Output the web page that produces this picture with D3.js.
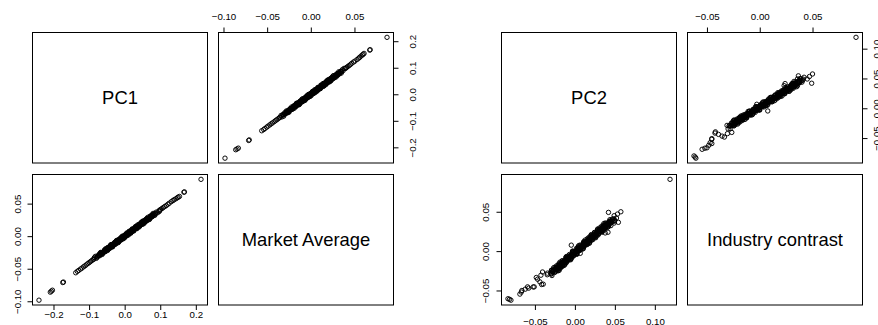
<!DOCTYPE html>
<html>
<head>
<meta charset="utf-8">
<script src="https://cdn.jsdelivr.net/npm/d3@7"></script>
<style>
html, body { margin: 0; padding: 0; background: #fff; }
svg { display: block; font-family: "Liberation Sans", Arial, Helvetica, sans-serif; }
</style>
</head>
<body>
<svg id="chart" width="878" height="325"></svg>
<script>
// Variable names shown on the diagonals of each scatterplot matrix
const leftVars = ["PC1", "Market Average"];
const rightVars = ["PC2", "Industry contrast"];

// Market average return vs first principal component
const marketAverage = [
  0.0873, 0.0680, 0.0675, 0.0610, 0.0600, 0.0590, 0.0575, 0.0560, 0.0548, 0.0530,
  0.0505, 0.0490, 0.0470, 0.0455, 0.0440, 0.0425, 0.0410, 0.0400, 0.0392,
  -0.0983, -0.0860, -0.0845, -0.0830, -0.0712, -0.0705, -0.0562, -0.0540, -0.0525, -0.0505,
  -0.0490, -0.0470, -0.0455, -0.0440, -0.0420, -0.0405, -0.0390, -0.0375, -0.0360, -0.0350,
  -0.034, -0.033, -0.032, -0.031, -0.030, -0.029, -0.028, -0.027, -0.026, -0.025,
  -0.024, -0.023, -0.022, -0.021, -0.020, -0.019, -0.018, -0.017, -0.016, -0.015,
  -0.014, -0.013, -0.012, -0.011, -0.010, -0.009, -0.008, -0.007, -0.006, -0.005,
  -0.004, -0.003, -0.002, -0.001, 0.000, 0.001, 0.002, 0.003, 0.004, 0.005,
  0.006, 0.007, 0.008, 0.009, 0.010, 0.011, 0.012, 0.013, 0.014, 0.015,
  0.016, 0.017, 0.018, 0.019, 0.020, 0.021, 0.022, 0.023, 0.024, 0.025,
  0.026, 0.027, 0.028, 0.029, 0.030, 0.031, 0.032, 0.033, 0.034, 0.035,
  0.036, 0.037, 0.038,
  -0.0205, -0.0195, -0.0185, -0.0175, -0.0165, -0.0155, -0.0145, -0.0135, -0.0125, -0.0115,
  -0.0105, -0.0095, -0.0085, -0.0075, -0.0065, -0.0055, -0.0045, -0.0035, -0.0025, -0.0015,
  -0.0005, 0.0005, 0.0015, 0.0025, 0.0035, 0.0045, 0.0055, 0.0065, 0.0075, 0.0085,
  0.0095, 0.0105, 0.0115, 0.0125, 0.0135, 0.0145, 0.0155, 0.0165, 0.0175, 0.0185,
  0.0195, 0.0205, 0.0215, 0.0225, 0.0235, 0.0245, 0.0255, 0.0265,
  -0.03175, -0.03075, -0.02975, -0.02875, -0.02775, -0.02675, -0.02575, -0.02475, -0.02375, -0.02275,
  -0.02175, -0.02075, -0.01975, -0.01875, -0.01775, -0.01675, -0.01575, -0.01475, -0.01375, -0.01275,
  -0.01175, -0.01075, -0.00975, -0.00875, -0.00775, -0.00675, -0.00575, -0.00475, -0.00375, -0.00275,
  -0.00175, -0.00075, 0.00025, 0.00125, 0.00225, 0.00325, 0.00425, 0.00525, 0.00625, 0.00725,
  0.00825, 0.00925, 0.01025, 0.01125, 0.01225, 0.01325, 0.01425, 0.01525, 0.01625, 0.01725,
  0.01825, 0.01925, 0.02025, 0.02125, 0.02225, 0.02325, 0.02425, 0.02525, 0.02625, 0.02725,
  0.02825, 0.02925, 0.03025, 0.03125, 0.03225, 0.03325, 0.03425, 0.03525,
  -0.02725, -0.02625, -0.02525, -0.02425, -0.02325, -0.02225, -0.02125, -0.02025, -0.01925, -0.01825,
  -0.01725, -0.01625, -0.01525, -0.01425, -0.01325, -0.01225, -0.01125, -0.01025, -0.00925, -0.00825,
  -0.00725, -0.00625, -0.00525, -0.00425, -0.00325, -0.00225, -0.00125, -0.00025, 0.00075, 0.00175,
  0.00275, 0.00375, 0.00475, 0.00575, 0.00675, 0.00775, 0.00875, 0.00975, 0.01075, 0.01175,
  0.01275, 0.01375, 0.01475, 0.01575, 0.01675, 0.01775, 0.01875, 0.01975, 0.02075, 0.02175,
  0.02275, 0.02375, 0.02475, 0.02575, 0.02675, 0.02775, 0.02875, 0.02975, 0.03075, 0.03175
];
const pc1 = [
  0.2146, 0.1680, 0.1665, 0.1540, 0.1505, 0.1480, 0.1440, 0.1390, 0.1360, 0.1310,
  0.1250, 0.1215, 0.1170, 0.1125, 0.1085, 0.1050, 0.1010, 0.0985, 0.0968,
  -0.2408, -0.2090, -0.2060, -0.2030, -0.1740, -0.1720, -0.1375, -0.1330, -0.1290, -0.1240,
  -0.1200, -0.1155, -0.1115, -0.1080, -0.1035, -0.0995, -0.0960, -0.0925, -0.0885, -0.0860,
  -0.0796, -0.0852, -0.0767, -0.0823, -0.0698, -0.0733, -0.0629, -0.0704, -0.0620, -0.0675,
  -0.0550, -0.0586, -0.0481, -0.0557, -0.0472, -0.0527, -0.0403, -0.0438, -0.0334, -0.0409,
  -0.0324, -0.0380, -0.0255, -0.0291, -0.0186, -0.0261, -0.0177, -0.0232, -0.0108, -0.0143,
  -0.0038, -0.0114, -0.0029, -0.0085, 0.0040, 0.0005, 0.0109, 0.0034, 0.0118, 0.0063,
  0.0188, 0.0152, 0.0257, 0.0181, 0.0266, 0.0211, 0.0335, 0.0300, 0.0404, 0.0329,
  0.0414, 0.0358, 0.0483, 0.0447, 0.0552, 0.0477, 0.0561, 0.0506, 0.0630, 0.0595,
  0.0700, 0.0624, 0.0709, 0.0653, 0.0778, 0.0743, 0.0847, 0.0772, 0.0856, 0.0801,
  0.0926, 0.0890, 0.0975,
  -0.0524, -0.0440, -0.0455, -0.0471, -0.0346, -0.0401, -0.0337, -0.0392, -0.0268, -0.0283,
  -0.0298, -0.0174, -0.0229, -0.0165, -0.0220, -0.0095, -0.0111, -0.0126, -0.0002, -0.0057,
  0.0008, -0.0048, 0.0077, 0.0062, 0.0046, 0.0171, 0.0115, 0.0180, 0.0125, 0.0249,
  0.0234, 0.0218, 0.0343, 0.0288, 0.0352, 0.0297, 0.0421, 0.0406, 0.0391, 0.0515,
  0.0460, 0.0524, 0.0469, 0.0594, 0.0578, 0.0563, 0.0687, 0.0632,
  -0.0771, -0.0767, -0.0732, -0.0697, -0.0693, -0.0658, -0.0624, -0.0619, -0.0584, -0.0550,
  -0.0545, -0.0511, -0.0476, -0.0471, -0.0437, -0.0402, -0.0398, -0.0363, -0.0328, -0.0324,
  -0.0289, -0.0255, -0.0250, -0.0215, -0.0181, -0.0176, -0.0142, -0.0107, -0.0102, -0.0068,
  -0.0033, -0.0029, 0.0006, 0.0041, 0.0045, 0.0080, 0.0114, 0.0119, 0.0154, 0.0188,
  0.0193, 0.0227, 0.0262, 0.0267, 0.0301, 0.0336, 0.0340, 0.0375, 0.0410, 0.0414,
  0.0449, 0.0483, 0.0488, 0.0523, 0.0557, 0.0562, 0.0596, 0.0631, 0.0636, 0.0670,
  0.0705, 0.0709, 0.0744, 0.0779, 0.0783, 0.0818, 0.0852, 0.0857,
  -0.0641, -0.0666, -0.0662, -0.0577, -0.0542, -0.0568, -0.0563, -0.0479, -0.0444, -0.0469,
  -0.0465, -0.0380, -0.0346, -0.0371, -0.0366, -0.0282, -0.0247, -0.0273, -0.0268, -0.0183,
  -0.0149, -0.0174, -0.0170, -0.0085, -0.0050, -0.0076, -0.0071, 0.0013, 0.0048, 0.0023,
  0.0027, 0.0112, 0.0146, 0.0121, 0.0126, 0.0210, 0.0245, 0.0219, 0.0224, 0.0309,
  0.0343, 0.0318, 0.0322, 0.0407, 0.0442, 0.0416, 0.0421, 0.0505, 0.0540, 0.0515,
  0.0519, 0.0604, 0.0638, 0.0613, 0.0618, 0.0702, 0.0737, 0.0711, 0.0716, 0.0801
];

// Industry contrast vs second principal component
const industryContrast = [
  0.0912, 0.0500, 0.0471, 0.0450, 0.0492, 0.0407, 0.0374, 0.0357, 0.0324, 0.0303,
  0.0231, 0.0240, 0.0366, 0.0420, 0.0076, -0.0028, -0.0193, -0.0243, -0.0265, -0.0306,
  -0.0357, -0.0335, -0.0391, -0.0420, -0.0424, -0.0454, -0.0455, -0.0470, -0.0454, -0.0483,
  -0.0500, -0.0520, -0.0546, -0.0623, -0.0605, -0.0612,
  -0.031, -0.030, -0.029, -0.028, -0.027, -0.026, -0.025, -0.024, -0.023, -0.022,
  -0.021, -0.020, -0.019, -0.018, -0.017, -0.016, -0.015, -0.014, -0.013, -0.012,
  -0.011, -0.010, -0.009, -0.008, -0.007, -0.006, -0.005, -0.004, -0.003, -0.002,
  -0.001, 0.000, 0.001, 0.002, 0.003, 0.004, 0.005, 0.006, 0.007, 0.008,
  0.009, 0.010, 0.011, 0.012, 0.013, 0.014, 0.015, 0.016, 0.017, 0.018,
  0.019, 0.020, 0.021, 0.022, 0.023, 0.024, 0.025, 0.026, 0.027, 0.028,
  0.029, 0.030, 0.031, 0.032, 0.033, 0.034, 0.035, 0.036, 0.037, 0.038,
  0.039, 0.040, 0.041,
  -0.0245, -0.0235, -0.0225, -0.0215, -0.0205, -0.0195, -0.0185, -0.0175, -0.0165, -0.0155,
  -0.0145, -0.0135, -0.0125, -0.0115, -0.0105, -0.0095, -0.0085, -0.0075, -0.0065, -0.0055,
  -0.0045, -0.0035, -0.0025, -0.0015, -0.0005, 0.0005, 0.0015, 0.0025, 0.0035, 0.0045,
  0.0055, 0.0065, 0.0075, 0.0085, 0.0095, 0.0105, 0.0115, 0.0125, 0.0135, 0.0145,
  0.0155, 0.0165, 0.0175, 0.0185, 0.0195, 0.0205, 0.0215, 0.0225, 0.0235, 0.0245,
  0.0255, 0.0265, 0.0275, 0.0285, 0.0295, 0.0305, 0.0315, 0.0325, 0.0335, 0.0345,
  -0.02875, -0.02775, -0.02675, -0.02575, -0.02475, -0.02375, -0.02275, -0.02175, -0.02075, -0.01975,
  -0.01875, -0.01775, -0.01675, -0.01575, -0.01475, -0.01375, -0.01275, -0.01175, -0.01075, -0.00975,
  -0.00875, -0.00775, -0.00675, -0.00575, -0.00475, -0.00375, -0.00275, -0.00175, -0.00075, 0.00025,
  0.00125, 0.00225, 0.00325, 0.00425, 0.00525, 0.00625, 0.00725, 0.00825, 0.00925, 0.01025,
  0.01125, 0.01225, 0.01325, 0.01425, 0.01525, 0.01625, 0.01725, 0.01825, 0.01925, 0.02025,
  0.02125, 0.02225, 0.02325, 0.02425, 0.02525, 0.02625, 0.02725, 0.02825, 0.02925, 0.03025,
  0.03125, 0.03225, 0.03325, 0.03425, 0.03525, 0.03625, 0.03725, 0.03825, 0.03925,
  -0.02625, -0.02525, -0.02425, -0.02325, -0.02225, -0.02125, -0.02025, -0.01925, -0.01825, -0.01725,
  -0.01625, -0.01525, -0.01425, -0.01325, -0.01225, -0.01125, -0.01025, -0.00925, -0.00825, -0.00725,
  -0.00625, -0.00525, -0.00425, -0.00325, -0.00225, -0.00125, -0.00025, 0.00075, 0.00175, 0.00275,
  0.00375, 0.00475, 0.00575, 0.00675, 0.00775, 0.00875, 0.00975, 0.01075, 0.01175, 0.01275,
  0.01375, 0.01475, 0.01575, 0.01675, 0.01775, 0.01875, 0.01975, 0.02075, 0.02175, 0.02275,
  0.02375, 0.02475, 0.02575, 0.02675, 0.02775, 0.02875, 0.02975, 0.03075, 0.03175, 0.03275,
  0.03375, 0.03475, 0.03575, 0.03675, 0.03775
];
const pc2 = [
  0.1190, 0.0575, 0.0533, 0.0491, 0.0420, 0.0470, 0.0429, 0.0491, 0.0450, 0.0408,
  0.0379, 0.0414, 0.0544, 0.0520, -0.0045, 0.0067, -0.0155, -0.0196, -0.0405, -0.0425,
  -0.0467, -0.0483, -0.0438, -0.0396, -0.0416, -0.0509, -0.0522, -0.0578, -0.0592, -0.0621,
  -0.0663, -0.0670, -0.0688, -0.0800, -0.0837, -0.0818,
  -0.0287, -0.0346, -0.0295, -0.0344, -0.0252, -0.0281, -0.0210, -0.0209, -0.0268, -0.0216,
  -0.0265, -0.0174, -0.0203, -0.0132, -0.0130, -0.0189, -0.0138, -0.0187, -0.0096, -0.0124,
  -0.0053, -0.0052, -0.0111, -0.0060, -0.0108, -0.0017, -0.0046, 0.0025, 0.0026, -0.0032,
  0.0019, -0.0030, 0.0061, 0.0032, 0.0104, 0.0105, 0.0046, 0.0097, 0.0048, 0.0140,
  0.0111, 0.0182, 0.0183, 0.0124, 0.0176, 0.0127, 0.0218, 0.0189, 0.0260, 0.0262,
  0.0203, 0.0254, 0.0205, 0.0296, 0.0268, 0.0339, 0.0340, 0.0281, 0.0332, 0.0284,
  0.0375, 0.0346, 0.0417, 0.0418, 0.0360, 0.0411, 0.0362, 0.0453, 0.0424, 0.0496,
  0.0497, 0.0438, 0.0489,
  -0.0294, -0.0223, -0.0242, -0.0180, -0.0229, -0.0198, -0.0227, -0.0156, -0.0174, -0.0113,
  -0.0162, -0.0131, -0.0160, -0.0088, -0.0107, -0.0046, -0.0095, -0.0064, -0.0092, -0.0021,
  -0.0040, 0.0021, -0.0028, 0.0004, -0.0025, 0.0046, 0.0027, 0.0088, 0.0040, 0.0071,
  0.0042, 0.0113, 0.0094, 0.0156, 0.0107, 0.0138, 0.0109, 0.0180, 0.0162, 0.0223,
  0.0174, 0.0205, 0.0176, 0.0248, 0.0229, 0.0290, 0.0241, 0.0272, 0.0244, 0.0315,
  0.0296, 0.0357, 0.0308, 0.0340, 0.0311, 0.0382, 0.0363, 0.0424, 0.0376, 0.0407,
  -0.0292, -0.0301, -0.0279, -0.0258, -0.0267, -0.0246, -0.0225, -0.0233, -0.0212, -0.0191,
  -0.0200, -0.0179, -0.0157, -0.0166, -0.0145, -0.0124, -0.0133, -0.0111, -0.0090, -0.0099,
  -0.0078, -0.0057, -0.0065, -0.0044, -0.0023, -0.0032, -0.0011, 0.0011, 0.0002, 0.0023,
  0.0044, 0.0035, 0.0057, 0.0078, 0.0069, 0.0090, 0.0111, 0.0103, 0.0124, 0.0145,
  0.0136, 0.0157, 0.0179, 0.0170, 0.0191, 0.0212, 0.0203, 0.0225, 0.0246, 0.0237,
  0.0258, 0.0279, 0.0271, 0.0292, 0.0313, 0.0304, 0.0325, 0.0347, 0.0338, 0.0359,
  0.0380, 0.0371, 0.0393, 0.0414, 0.0405, 0.0426, 0.0447, 0.0439, 0.0460,
  -0.0244, -0.0283, -0.0292, -0.0221, -0.0200, -0.0238, -0.0247, -0.0176, -0.0155, -0.0194,
  -0.0202, -0.0131, -0.0110, -0.0149, -0.0158, -0.0086, -0.0065, -0.0104, -0.0113, -0.0042,
  -0.0020, -0.0059, -0.0068, 0.0003, 0.0024, -0.0014, -0.0023, 0.0048, 0.0069, 0.0030,
  0.0022, 0.0093, 0.0114, 0.0075, 0.0066, 0.0138, 0.0159, 0.0120, 0.0111, 0.0182,
  0.0204, 0.0165, 0.0156, 0.0227, 0.0248, 0.0210, 0.0201, 0.0272, 0.0293, 0.0254,
  0.0246, 0.0317, 0.0338, 0.0299, 0.0290, 0.0362, 0.0383, 0.0344, 0.0335, 0.0406,
  0.0428, 0.0389, 0.0380, 0.0451, 0.0472
];

// Tick values for each variable's axis
const pc1Ticks = [-0.2, -0.1, 0.0, 0.1, 0.2];
const marketTicks = [-0.10, -0.05, 0.00, 0.05];
const pc2Ticks = [-0.05, 0.00, 0.05, 0.10];
const industryTicks = [-0.05, 0.00, 0.05];

const matrices = [
  { x0: 32, names: leftVars, series: [pc1, marketAverage], ticks: [pc1Ticks, marketTicks],
    fmt: [".1f", ".2f"], off: { top: 12.7, bottom: 13.3, left: 11.5, right: 22.3 } },
  { x0: 501, names: rightVars, series: [pc2, industryContrast], ticks: [pc2Ticks, industryTicks],
    fmt: [".2f", ".2f"], off: { top: 12.7, bottom: 20, left: 12.6, right: 17 } }
];

const panelW = 175, panelH = 130.5, gapX = 10.5, gapY = 11.5, y0 = 32;
const svg = d3.select("#chart");

// Pad an extent by 4% on each side, as scatterplot matrices usually do
function padded(values) {
  const [lo, hi] = d3.extent(values);
  const r = hi - lo;
  return [lo - 0.04 * r, hi + 0.04 * r];
}

matrices.forEach(m => {
  const g = svg.append("g");
  const panels = [];
  for (let i = 0; i < 2; i++) {
    for (let j = 0; j < 2; j++) {
      const left = Math.round(m.x0 + j * (panelW + gapX)) + 0.5;
      const top = Math.round(y0 + i * (panelH + gapY)) + 0.5;
      panels.push({ i, j, left, top });
    }
  }

  panels.forEach(p => {
    const w = panelW, h = panelH;
    const pg = g.append("g");

    if (p.i === p.j) {
      pg.append("text")
        .attr("x", p.left + w / 2)
        .attr("y", p.top + h / 2 + 6.6)
        .attr("text-anchor", "middle")
        .attr("font-size", 18.4)
        .attr("fill", "#000")
        .text(m.names[p.i]);
    } else {
      const xs = m.series[p.j], ys = m.series[p.i];
      const x = d3.scaleLinear().domain(padded(xs)).range([p.left, p.left + w]);
      const y = d3.scaleLinear().domain(padded(ys)).range([p.top + h, p.top]);

      pg.append("g").selectAll("circle")
        .data(d3.range(xs.length))
        .join("circle")
        .attr("cx", k => x(xs[k]))
        .attr("cy", k => y(ys[k]))
        .attr("r", 2.2)
        .attr("fill", "none")
        .attr("stroke", "#000")
        .attr("stroke-width", 0.95);

      const fx = d3.format(m.fmt[p.j]), fy = d3.format(m.fmt[p.i]);
      const styleAxis = sel => {
        sel.select(".domain").remove();
        sel.selectAll(".tick line").attr("stroke", "#000");
        sel.selectAll(".tick text").attr("fill", "#000").attr("font-size", 9.7)
          .attr("font-family", "\"Liberation Sans\", Arial, sans-serif");
      };

      if (p.i === 0) {
        // top axis + right axis
        const ax = g.append("g").attr("transform", `translate(0,${p.top})`)
          .call(d3.axisTop(x).tickValues(m.ticks[p.j]).tickFormat(fx).tickSize(5).tickSizeOuter(0));
        styleAxis(ax);
        ax.selectAll(".tick text").attr("y", -m.off.top).attr("dy", 0).attr("text-anchor", "middle");

        const ay = g.append("g").attr("transform", `translate(${p.left + w},0)`)
          .call(d3.axisRight(y).tickValues(m.ticks[p.i]).tickFormat(fy).tickSize(5).tickSizeOuter(0));
        styleAxis(ay);
        ay.selectAll(".tick text").attr("x", 0).attr("y", 0).attr("dy", 0)
          .attr("text-anchor", "middle")
          .attr("transform", `translate(${m.off.right},0) rotate(-90)`);
      } else {
        // bottom axis + left axis
        const ax = g.append("g").attr("transform", `translate(0,${p.top + h})`)
          .call(d3.axisBottom(x).tickValues(m.ticks[p.j]).tickFormat(fx).tickSize(5).tickSizeOuter(0));
        styleAxis(ax);
        ax.selectAll(".tick text").attr("y", m.off.bottom).attr("dy", 0).attr("text-anchor", "middle");

        const ay = g.append("g").attr("transform", `translate(${p.left},0)`)
          .call(d3.axisLeft(y).tickValues(m.ticks[p.i]).tickFormat(fy).tickSize(5).tickSizeOuter(0));
        styleAxis(ay);
        ay.selectAll(".tick text").attr("x", 0).attr("y", 0).attr("dy", 0)
          .attr("text-anchor", "middle")
          .attr("transform", `translate(${-m.off.left},0) rotate(-90)`);
      }
    }

    pg.append("rect")
      .attr("x", p.left).attr("y", p.top)
      .attr("width", w).attr("height", h)
      .attr("fill", "none").attr("stroke", "#000").attr("stroke-width", 1);
  });
});
</script>
</body>
</html>
